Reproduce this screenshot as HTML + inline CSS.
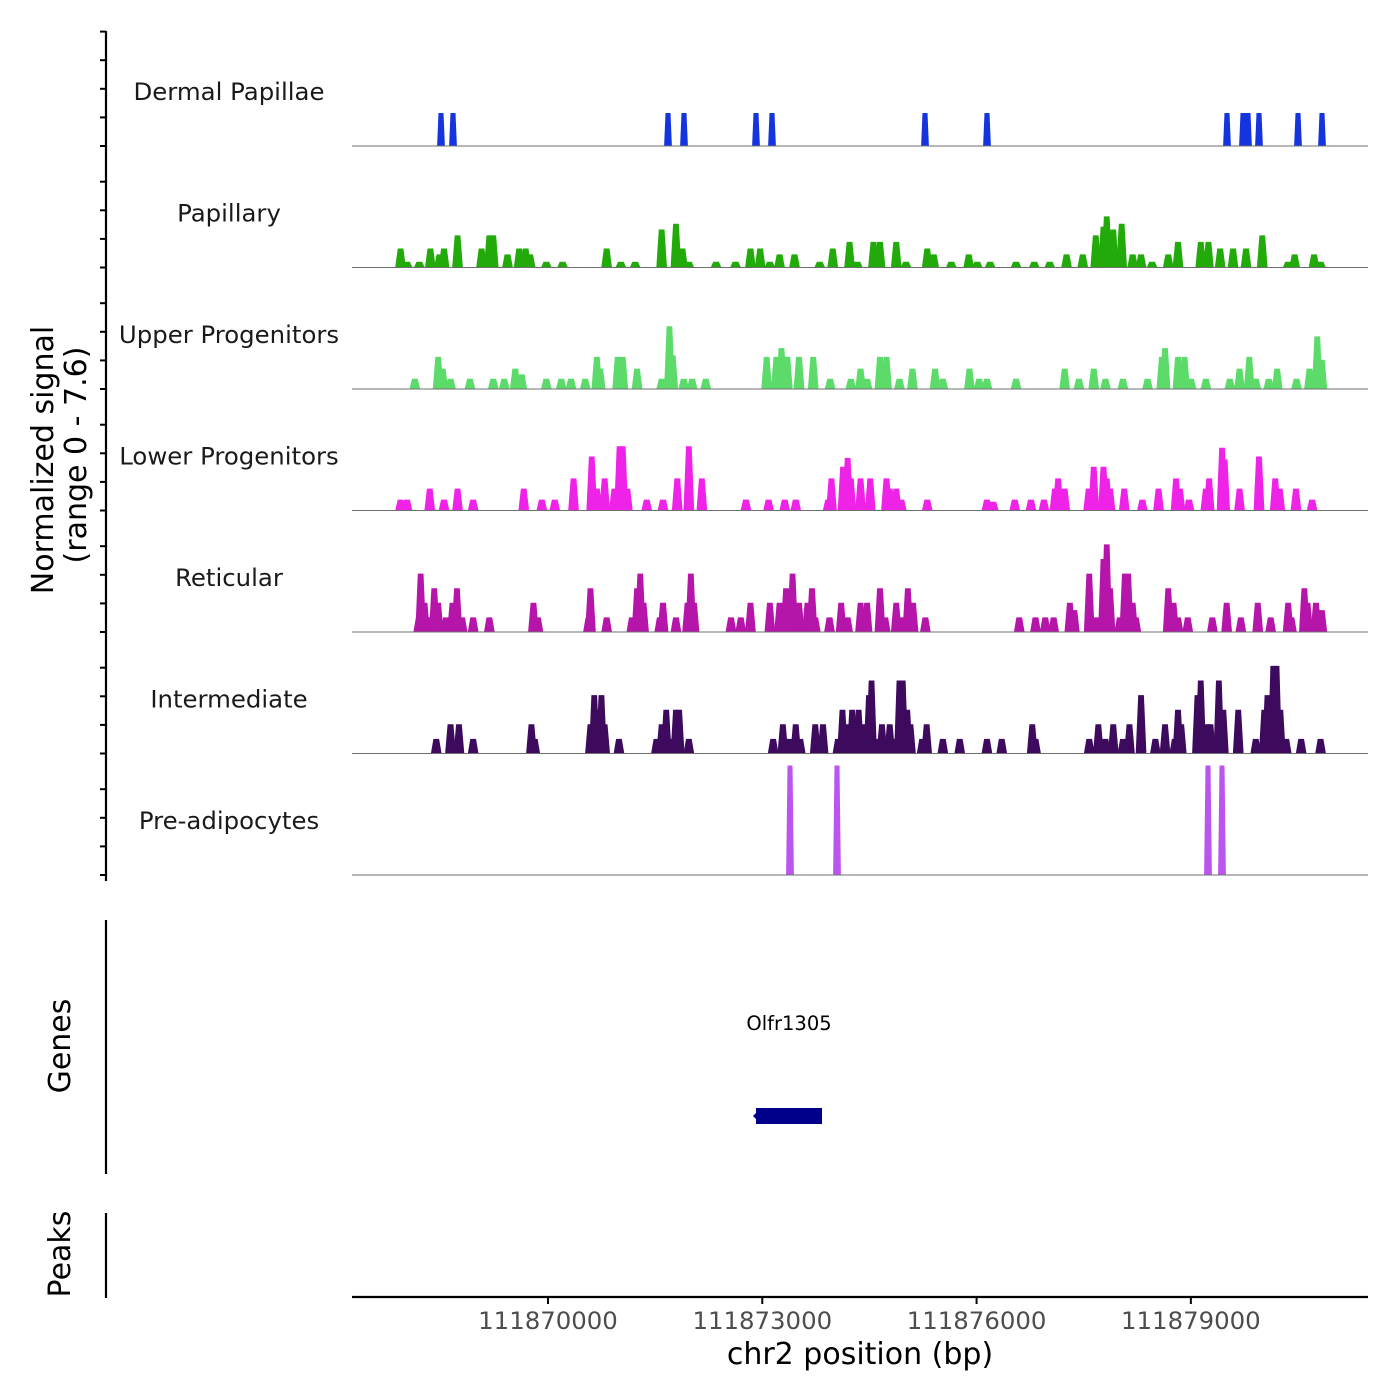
<!DOCTYPE html>
<html><head><meta charset="utf-8"><style>
body{margin:0;background:#fff}
svg{display:block;font-family:"DejaVu Sans","Liberation Sans",sans-serif}
</style></head><body>
<svg id="chart" width="1400" height="1400" viewBox="0 0 1400 1400">
<g id="left-axes"></g>
<g id="tracks"></g>
<g id="gene-track"></g>
<g id="x-axis"></g>
<text x="0" y="0" transform="translate(53,460) rotate(-90)" text-anchor="middle" font-size="30" fill="#000">Normalized signal</text>
<text x="0" y="0" transform="translate(86,455) rotate(-90)" text-anchor="middle" font-size="30" fill="#000">(range 0 - 7.6)</text>
<text x="0" y="0" transform="translate(70,1046) rotate(-90)" text-anchor="middle" font-size="30" fill="#000">Genes</text>
<text x="0" y="0" transform="translate(70,1254) rotate(-90)" text-anchor="middle" font-size="30" fill="#000">Peaks</text>
<text x="860" y="1364" text-anchor="middle" font-size="30" fill="#000">chr2 position (bp)</text>
</svg>
<script>
const regionStart = 111867256;
const regionEnd = 111881480;
const trackNames = ["Dermal Papillae","Papillary","Upper Progenitors","Lower Progenitors","Reticular","Intermediate","Pre-adipocytes"];
const trackColors = ["#1434e0","#22aa0a","#5cdb6b","#ef22e8","#b515a9","#3d0a5e","#bb55f0"];
const xTicks = [111870000,111873000,111876000,111879000];
const xTickLabels = ["111870000","111873000","111876000","111879000"];
const signalMax = 7.6;

const dermalPos = [1246,1414,4424,4648,5656,5880,8022,8890,12250,12474,12544,12698,13244,13580];
const dermalVal = [2.26,2.26,2.26,2.26,2.26,2.26,2.26,2.26,2.26,2.26,2.26,2.26,2.26,2.26];
const papillaryPos = [680,771,943,1097,1224,1288,1478,1814,1923,1977,2177,2340,2431,2494,2721,2948,3565,3764,3964,4335,4535,4626,4716,5097,5369,5578,5714,5850,5986,6195,6549,6730,6966,7075,7301,7392,7619,7755,8054,8145,8390,8635,8753,8934,9297,9551,9768,10004,10231,10412,10521,10567,10657,10775,10929,11047,11201,11428,11564,11882,11990,12154,12335,12517,12743,13106,13197,13469,13560];
const papillaryVal = [1.3,.4,.4,1.3,.9,1.3,2.2,1.3,2.2,2.2,.9,1.3,1.3,.9,.4,.4,1.3,.4,.4,2.6,3.0,1.3,.4,.4,.4,1.3,1.3,.4,.9,.9,.4,1.3,1.75,.4,1.75,1.75,1.75,.4,1.3,.9,.4,.9,.4,.4,.4,.4,.4,.9,.9,2.2,2.8,3.5,2.6,3.0,.9,.9,.4,.9,1.75,1.75,1.75,1.3,1.3,1.3,2.2,.4,.9,.9,.4];
const upperPos = [880,1206,1270,1379,1651,1977,2131,2286,2376,2721,2930,3066,3265,3428,3474,3719,3791,3991,4335,4444,4490,4644,4762,4952,5805,5941,6013,6095,6258,6458,6694,6984,7120,7211,7392,7483,7664,7846,8163,8272,8644,8780,8889,9297,9977,10177,10385,10548,10793,11138,11338,11383,11564,11655,11746,11954,12290,12426,12562,12653,12834,12952,13224,13405,13514,13578];
const upperVal = [.7,2.2,1.4,.7,.7,.7,.7,1.4,1.0,.7,.7,.7,.7,2.2,1.4,2.2,2.2,1.4,.7,4.3,2.3,.7,.7,.7,2.2,2.2,2.8,2.2,2.2,2.2,.7,.7,1.4,.7,2.2,2.2,.7,1.4,1.4,.7,1.4,.7,.7,.7,1.4,.7,1.4,.7,.7,.7,2.2,2.8,2.2,2.2,.7,.7,.7,1.4,2.2,.7,.7,1.4,.7,1.4,3.6,2.0];
const lowerPos = [680,771,1088,1288,1478,1696,2404,2658,2839,3102,3356,3428,3537,3673,3746,3791,3855,4127,4354,4553,4716,4898,5515,5832,6059,6213,6666,6712,6875,6939,6984,7120,7256,7483,7528,7619,7691,8054,8889,8979,9279,9505,9687,9841,9886,9977,10313,10385,10521,10567,10612,10811,11065,11292,11537,11591,11718,11954,12000,12181,12217,12426,12698,12925,12988,13215,13442];
const lowerVal = [.75,.75,1.5,.75,1.5,.75,1.5,.75,.75,2.2,3.7,1.5,2.2,1.5,4.4,4.4,1.5,.75,.75,2.2,4.4,2.2,.75,.75,.75,.75,.75,2.2,3.0,3.6,2.2,2.2,2.2,2.2,1.5,1.5,.75,.75,.75,.6,.75,.75,.75,1.5,2.2,1.5,1.5,3.0,3.0,2.2,1.5,1.5,.75,1.5,2.2,1.5,.75,1.5,2.2,4.3,3.5,1.5,3.7,2.2,1.5,1.5,.75];
const reticularPos = [934,961,1016,1088,1152,1206,1315,1406,1469,1542,1696,1923,2540,2603,3311,3338,3565,3918,3991,4036,4081,4308,4354,4535,4698,4744,4789,5306,5442,5578,5850,5986,6077,6168,6258,6376,6440,6485,6685,6848,6939,7120,7211,7392,7465,7619,7691,7782,7855,8027,9342,9569,9705,9823,10050,10113,10322,10412,10521,10567,10612,10748,10820,10866,10929,10974,11428,11501,11564,11700,12045,12245,12444,12680,12861,13106,13152,13333,13378,13496,13578];
const reticularVal = [1,4,2,1,3,2,1,2,3,1,1,1,2,1,1,3,1,1,3,4,2,1,2,1,2,4,2,1,1,2,2,2,3,4,2,2,3,1,1,2,1,2,2,3,1,2,1,3,2,1,1,1,1,1,2,1.5,4,1,5,6,3,1,4,4,2,1,3,2,1,1,1,2,1,2,1,2,1,3,2,2,1.5];
const intermediatePos = [1179,1379,1497,1696,2512,2558,3338,3392,3447,3492,3537,3737,4263,4335,4399,4444,4535,4580,4716,5896,6032,6122,6213,6276,6485,6594,6803,6866,6939,7002,7093,7165,7238,7274,7365,7419,7528,7573,7664,7710,7773,7818,7982,8045,8272,8508,8889,9097,9523,9569,10322,10449,10548,10657,10793,10884,11047,11247,11383,11519,11564,11610,11836,11882,11972,12018,12136,12199,12408,12653,12771,12816,12898,12943,12997,13079,13288,13560];
const intermediateVal = [1,2,2,1,2,1,2,4,3,4,2,1,1,2,3,1,3,3,1,1,2,1,2,1,2,2,1,3,2,3,3,2,4,5,1,2,2,1,5,5,3,2,1,2,1,1,1,1,2,1,1,2,1,2,1,2,4,1,2,1,3,2,4,5,2,2,5,3,3,1,3,4,6,6,3,1,1,1];
const preadipoPos = [6132,6790,11984,12180];
const preadipoVal = [7.5,7.5,7.5,7.5];
const trackPos = [dermalPos,papillaryPos,upperPos,lowerPos,reticularPos,intermediatePos,preadipoPos];
const trackVal = [dermalVal,papillaryVal,upperVal,lowerVal,reticularVal,intermediateVal,preadipoVal];

const geneNames = ["Olfr1305"];
const geneStart = [111872912];
const geneEnd = [111873836];

const NS = "http://www.w3.org/2000/svg";
const plotL = 352, plotR = 1368;
const firstBase = 146, trackStep = 121.5, unitPx = 14.6;
function xs(bp){ return plotL + (bp - regionStart) / (regionEnd - regionStart) * (plotR - plotL); }
function ys(v, base){ return base - v * unitPx; }
function mk(tag, attrs, parent){ const e = document.createElementNS(NS, tag); for (const k in attrs) e.setAttribute(k, attrs[k]); parent.appendChild(e); return e; }

const tracksG = document.getElementById("tracks");
const leftG = document.getElementById("left-axes");
mk("line",{x1:106,y1:31,x2:106,y2:881,stroke:"#000","stroke-width":2.2},leftG);
trackNames.forEach((name, ti) => {
  const base = firstBase + ti * trackStep;
  const g = mk("g",{},tracksG);
  
  
  const lbl = mk("text",{x:229,y:base-46,"text-anchor":"middle","font-size":24.4,fill:"#1a1a1a"},g);
  lbl.textContent = name;
  
  
  const pos = trackPos[ti], val = trackVal[ti];
  const half = (ti === 0 || ti === 6) ? 55 : 75, top = (ti === 0 || ti === 6) ? 35 : 40;
  pos.forEach((p, i) => {
    const bp = regionStart + p;
    const pts = [[xs(bp-half),base],[xs(bp-top),ys(val[i],base)],[xs(bp+top),ys(val[i],base)],[xs(bp+half),base]];
    const poly = mk("polygon",{points:pts.map(q=>q[0].toFixed(1)+","+q[1].toFixed(1)).join(" "),fill:trackColors[ti]},g);
    
    
  });
  const bl = mk("line",{x1:plotL,y1:base,x2:plotR,y2:base,stroke:"#6f6f6f","stroke-width":1},g);
  
  
  for (let k = 0; k < (ti === 0 ? 5 : 4); k++) {
    const ty = base - k * 28.6;
    const t = mk("line",{x1:100,y1:ty,x2:106,y2:ty,stroke:"#000","stroke-width":2},leftG);
    
    
  }
});

const geneG = document.getElementById("gene-track");
mk("line",{x1:106,y1:920,x2:106,y2:1174,stroke:"#000","stroke-width":2.2},geneG);
mk("line",{x1:106,y1:1213,x2:106,y2:1298,stroke:"#000","stroke-width":2.2},geneG);
geneNames.forEach((n, i) => {
  const x1 = xs(geneStart[i]), x2 = xs(geneEnd[i]);
  const r = mk("rect",{x:x1,y:1108,width:x2-x1,height:16,fill:"#00008b"},geneG);
  
  
  mk("polygon",{points:`${x1-3},1116 ${x1+2},1111 ${x1+2},1121`,fill:"#00008b"},geneG);
  const t = mk("text",{x:(x1+x2)/2,y:1030,"text-anchor":"middle","font-size":19.5,fill:"#000"},geneG);
  t.textContent = n;
  
  
});

const xg = document.getElementById("x-axis");
mk("line",{x1:plotL,y1:1297,x2:plotR,y2:1297,stroke:"#000","stroke-width":2.2},xg);
xTicks.forEach((v, i) => {
  const x = xs(v);
  const t = mk("line",{x1:x,y1:1297,x2:x,y2:1304,stroke:"#000","stroke-width":2},xg);
  
  
  const l = mk("text",{x:x,y:1329,"text-anchor":"middle","font-size":24.4,fill:"#4d4d4d"},xg);
  l.textContent = xTickLabels[i];
  
  
});
</script>
</body></html>
